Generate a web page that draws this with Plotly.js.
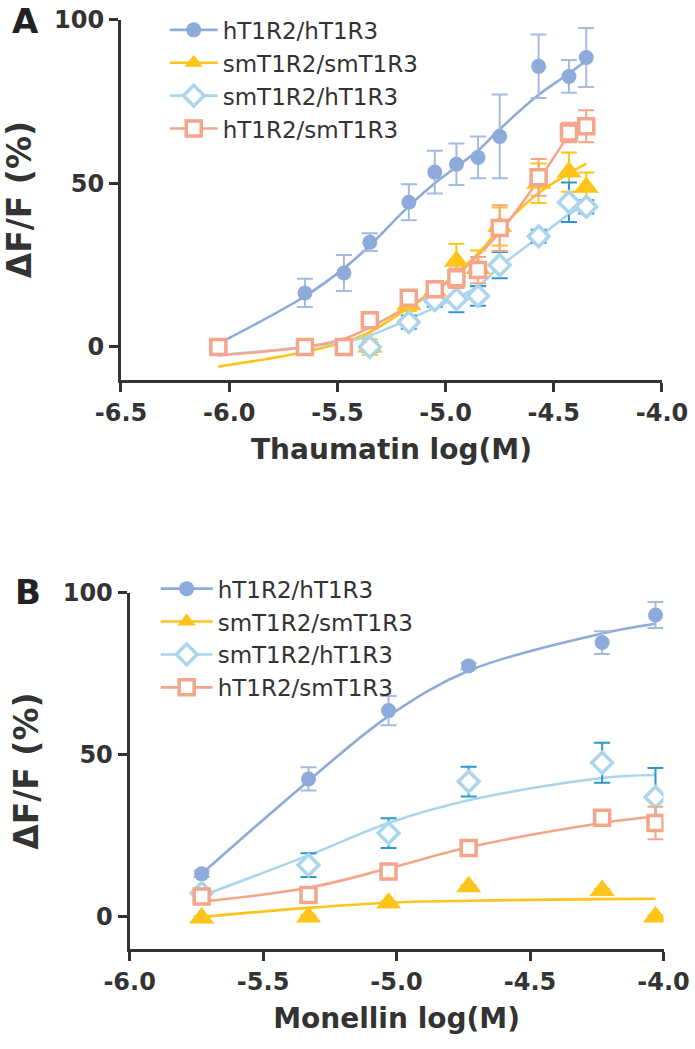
<!DOCTYPE html>
<html>
<head>
<meta charset="utf-8">
<script src="https://cdn.plot.ly/plotly-3.0.1.min.js"></script>
<style>html,body{margin:0;padding:0;background:#fff;}#chart{width:695px;height:1049px;}</style>
</head>
<body>
<div id="chart"></div>
<script>
// ---------- Panel A: Thaumatin ----------
const seriesNames = ['hT1R2/hT1R3', 'smT1R2/smT1R3', 'smT1R2/hT1R3', 'hT1R2/smT1R3'];

const thauX = [-6.05, -5.65, -5.47, -5.35, -5.17, -5.05, -4.95, -4.85, -4.75, -4.57, -4.43, -4.35];

// data points (visible ones)
const thauHHx = [-5.65, -5.47, -5.35, -5.17, -5.05, -4.95, -4.85, -4.75, -4.57, -4.43, -4.35];
const thauHHy = [16.5, 22.6, 32.0, 44.2, 53.4, 55.8, 57.9, 64.3, 85.7, 82.6, 88.4];
const thauHHe = [4.3, 5.5, 2.7, 5.5, 6.5, 6.3, 6.4, 12.8, 9.7, 5.0, 9.0];

const thauSSx = [-5.35, -5.17, -5.05, -4.95, -4.85, -4.75, -4.57, -4.43, -4.35];
const thauSSy = [0, 13, 17, 26.2, 24, 36.8, 50, 53.4, 48.8];
const thauSSe = [2.4, 2, 3, 5.3, 5.5, 5.8, 6, 6, 4.5];

const thauSHx = [-5.35, -5.17, -5.05, -4.95, -4.85, -4.75, -4.57, -4.43, -4.35];
const thauSHy = [0, 7.6, 14.3, 14.6, 15.6, 25.0, 33.8, 44.2, 42.8];
const thauSHe = [1.5, 2, 2, 4, 3, 4, 2, 6, 2];

const thauHSx = [-6.05, -5.65, -5.47, -5.35, -5.17, -5.05, -4.95, -4.85, -4.75, -4.57, -4.43, -4.35];
const thauHSy = [0, 0, 0, 8.2, 15.0, 17.6, 21.0, 23.5, 36.3, 51.8, 65.5, 67.4];
const thauHSe = [1, 1, 1, 2, 2, 2, 3, 4, 7, 5.6, 3, 4.9];

// fitted curves
const thauFitHH = [1, 15.5, 24, 31, 43, 50, 55, 60, 66.5, 77, 83.5, 87.5];
const thauFitSS = [-6, -1.5, 1.5, 4.5, 12, 17, 22.5, 28.5, 36, 47, 53, 56];
const thauFitSH = [-2.5, 0, 1.5, 3.5, 8.5, 12, 15, 18.5, 24.5, 33.5, 40.5, 43.5];
const thauFitHSx = [-6.05, -5.65, -5.47, -5.35, -5.17, -5.05, -4.95, -4.85, -4.75, -4.57, -4.43];
const thauFitHS = [-2.5, 0, 2.5, 6, 12.5, 17, 22, 28, 35, 51, 65];

// ---------- Panel B: Monellin ----------
const monX = [-5.73, -5.33, -5.03, -4.73, -4.23, -4.03];
const monHHy = [13.3, 42.6, 63.7, 77.5, 84.7, 93.2];
const monHHe = [1, 3.6, 4.5, 1, 3.5, 4];
const monSSy = [-0.3, 0, 4.3, 9.3, 8.2, 0];
const monSSe = [0.5, 0.5, 0.5, 0.5, 0.5, 0.5];
const monSHy = [7.4, 16, 25.9, 41.8, 47.6, 37];
const monSHe = [1, 3.7, 4.6, 4.6, 6.2, 9];
const monHSy = [6.3, 6.8, 14, 21.3, 30.6, 29];
const monHSe = [1, 1.5, 1.5, 1, 1.5, 5];

const monFitHH = [13.3, 42, 62, 76, 87.5, 90.5];
const monFitSS = [0, 2.8, 4.4, 5, 5.5, 5.6];
const monFitSH = [6.5, 19, 29, 36, 42.9, 43.8];
const monFitHS = [4.7, 9, 15, 21.5, 29, 31];

const thauTicks = [-6.5, -6.0, -5.5, -5.0, -4.5, -4.0];
const thauTickText = ['-6.5', '-6.0', '-5.5', '-5.0', '-4.5', '-4.0'];
const monTicks = [-6.0, -5.5, -5.0, -4.5, -4.0];
const monTickText = ['-6.0', '-5.5', '-5.0', '-4.5', '-4.0'];
const yTicks = [0, 50, 100];

// ---------- styles ----------
const C = {
  hh: '#8eaadb', hhErr: '#a6badf',
  ss: '#ffc41a', ssErr: '#ffc41a',
  sh: '#aad5ec', shErr: '#2b97cc',
  hs: '#f4a58a', hsErr: '#f4a58a'
};
const mk = {
  hh: {symbol: 'circle', size: 15, color: C.hh, line: {width: 0}},
  ss: {symbol: 'triangle-up', size: 22, color: C.ss, line: {width: 0}},
  sh: {symbol: 'diamond', size: 16, color: '#ffffff', line: {color: C.sh, width: 3.5}},
  hs: {symbol: 'square', size: 15, color: '#ffffff', line: {color: C.hs, width: 3.5}}
};
const lineColor = {hh: C.hh, ss: C.ss, sh: C.sh, hs: C.hs};
const errColor = {hh: C.hhErr, ss: C.ssErr, sh: C.shErr, hs: C.hsErr};
const keys = ['hh', 'ss', 'sh', 'hs'];

function fit(x, y, k, xa, ya) {
  return {x: x, y: y, xaxis: xa, yaxis: ya, mode: 'lines', showlegend: false, hoverinfo: 'skip',
    line: {color: lineColor[k], width: 2.6, shape: 'spline', smoothing: 1}};
}
function pts(x, y, e, k, xa, ya) {
  return {x: x, y: y, xaxis: xa, yaxis: ya, mode: 'markers', showlegend: false, marker: mk[k],
    error_y: {type: 'data', array: e, visible: true, color: errColor[k], thickness: 2, width: 8}};
}
function leg(k, i, xa, ya, lg) {
  return {x: [null], y: [null], xaxis: xa, yaxis: ya, mode: 'lines+markers', name: seriesNames[i],
    legend: lg, marker: mk[k], line: {color: lineColor[k], width: 2.6}};
}

const traces = [
  fit(thauX, thauFitHH, 'hh', 'x', 'y'),
  fit(thauX, thauFitSS, 'ss', 'x', 'y'),
  fit(thauX, thauFitSH, 'sh', 'x', 'y'),
  fit(thauFitHSx, thauFitHS, 'hs', 'x', 'y'),
  pts(thauHHx, thauHHy, thauHHe, 'hh', 'x', 'y'),
  pts(thauSSx, thauSSy, thauSSe, 'ss', 'x', 'y'),
  pts(thauSHx, thauSHy, thauSHe, 'sh', 'x', 'y'),
  pts(thauHSx, thauHSy, thauHSe, 'hs', 'x', 'y'),
  fit(monX, monFitHH, 'hh', 'x2', 'y2'),
  fit(monX, monFitSS, 'ss', 'x2', 'y2'),
  fit(monX, monFitSH, 'sh', 'x2', 'y2'),
  fit(monX, monFitHS, 'hs', 'x2', 'y2'),
  pts(monX, monHHy, monHHe, 'hh', 'x2', 'y2'),
  pts(monX, monSSy, monSSe, 'ss', 'x2', 'y2'),
  pts(monX, monSHy, monSHe, 'sh', 'x2', 'y2'),
  pts(monX, monHSy, monHSe, 'hs', 'x2', 'y2')
];
keys.forEach((k, i) => traces.push(leg(k, i, 'x', 'y', 'legend')));
keys.forEach((k, i) => traces.push(leg(k, i, 'x2', 'y2', 'legend2')));

const tickFont = {family: 'DejaVu Sans', size: 24, color: '#333333', weight: 700};
const titleFont = {family: 'DejaVu Sans', size: 28, color: '#333333', weight: 700};
const yTitleFont = {family: 'DejaVu Sans', size: 33, color: '#333333', weight: 700};
const legFont = {family: 'DejaVu Sans', size: 23, color: '#333333'};
const axBase = {showline: true, linewidth: 3, linecolor: '#333333', ticks: 'outside', ticklen: 9,
  tickwidth: 3, tickcolor: '#333333', showgrid: false, zeroline: false, tickfont: tickFont, fixedrange: true};

const layout = {
  width: 695, height: 1049,
  margin: {l: 0, r: 0, t: 0, b: 0},
  paper_bgcolor: '#ffffff', plot_bgcolor: '#ffffff',
  showlegend: true,
  xaxis: Object.assign({}, axBase, {domain: [0.1741, 0.9525], anchor: 'y', range: [-6.5, -4.0],
    tickmode: 'array', tickvals: thauTicks, ticktext: thauTickText,
    title: {text: 'Thaumatin log(M)', font: titleFont, standoff: 14}}),
  yaxis: Object.assign({}, axBase, {domain: [0.638, 0.9814], anchor: 'x', range: [-10, 100],
    tickmode: 'array', tickvals: yTicks,
    title: {text: 'ΔF/F (%)', font: yTitleFont, standoff: 15}}),
  xaxis2: Object.assign({}, axBase, {domain: [0.1865, 0.9547], anchor: 'y2', range: [-6.0, -4.0],
    tickmode: 'array', tickvals: monTicks, ticktext: monTickText,
    title: {text: 'Monellin log(M)', font: titleFont, standoff: 14}}),
  yaxis2: Object.assign({}, axBase, {domain: [0.095, 0.4347], anchor: 'x2', range: [-10, 100],
    tickmode: 'array', tickvals: yTicks,
    title: {text: 'ΔF/F (%)', font: yTitleFont, standoff: 15}}),
  legend: {x: 0.237, y: 0.992, xanchor: 'left', yanchor: 'top', bgcolor: 'rgba(0,0,0,0)',
    font: legFont, tracegroupgap: 0, itemwidth: 48, itemclick: false},
  legend2: {x: 0.224, y: 0.4593, xanchor: 'left', yanchor: 'top', bgcolor: 'rgba(0,0,0,0)',
    font: legFont, tracegroupgap: 0, itemwidth: 52, itemclick: false},
  annotations: [
    {text: 'A', xref: 'paper', yref: 'paper', x: 0.036, y: 0.98, xanchor: 'center', yanchor: 'middle',
      showarrow: false, font: {family: 'DejaVu Sans', size: 34, color: '#222222', weight: 700}},
    {text: 'B', xref: 'paper', yref: 'paper', x: 0.040, y: 0.4357, xanchor: 'center', yanchor: 'middle',
      showarrow: false, font: {family: 'DejaVu Sans', size: 34, color: '#222222', weight: 700}}
  ]
};

Plotly.newPlot('chart', traces, layout, {displayModeBar: false, staticPlot: true});
</script>
</body>
</html>
